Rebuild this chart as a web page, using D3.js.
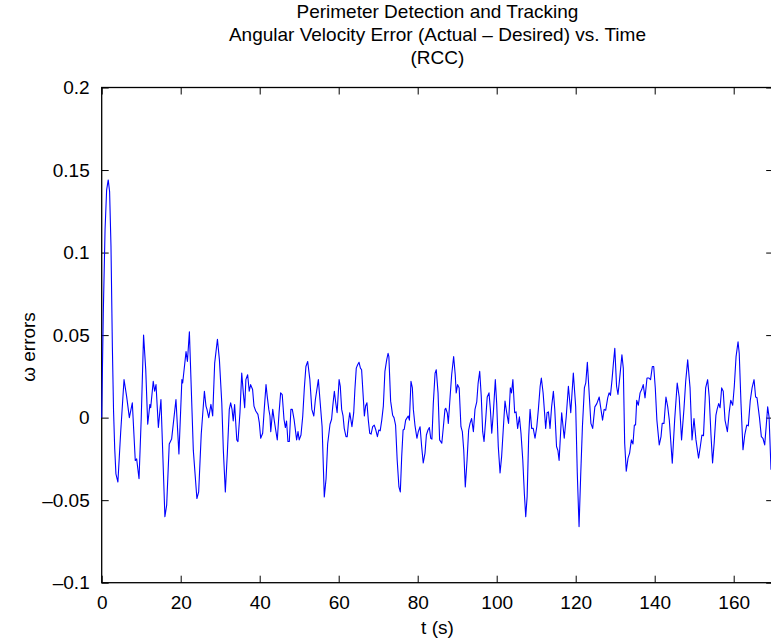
<!DOCTYPE html>
<html>
<head>
<meta charset="utf-8">
<script src="https://cdn.jsdelivr.net/npm/d3@7"></script>
<style>
  body { margin: 0; background: #fff; }
  svg { display: block; font-family: "Liberation Sans", Arial, sans-serif; }
</style>
</head>
<body>
<div id="chart"></div>
<script>
// Title lines and labels
var titleLines = ["Perimeter Detection and Tracking",
  "Angular Velocity Error (Actual \u2013 Desired) vs. Time",
  "(RCC)"];
var xLabel = "t (s)";
var yLabel = "\u03c9 errors";

// Tick values
var xTicks = [0, 20, 40, 60, 80, 100, 120, 140, 160];
var yTicks = [-0.1, -0.05, 0, 0.05, 0.1, 0.15, 0.2];

// Time samples (s)
var timeVals = [0.0, 0.4, 0.85, 1.25, 1.65, 2.0, 2.35, 2.7, 3.0, 3.3, 3.6, 4.1, 4.8, 5.65, 6.3, 7.0, 7.75, 8.5, 8.85, 9.45,
  10.0, 10.6, 11.15, 11.65, 12.2, 12.4, 13.05, 13.4, 13.75, 14.35, 15.0, 16.0, 16.45, 17.1, 17.7, 18.8, 19.55, 20.3, 20.5, 21.35,
  21.7, 22.2, 23.2, 24.1, 24.55, 25.2, 26.0, 26.4, 26.65, 27.1, 27.65, 28.1, 28.6, 29.3, 29.8, 30.4, 30.8, 31.3, 31.8, 32.3,
  32.65, 33.0, 33.3, 33.65, 34.2, 34.5, 35.0, 35.45, 35.85, 36.2, 36.5, 36.95, 37.35, 37.7, 38.2, 38.55, 39.0, 39.55, 39.9, 40.25,
  40.75, 41.15, 41.6, 41.9, 42.3, 42.6, 42.8, 43.3, 43.7, 44.05, 44.45, 44.9, 45.3, 45.7, 46.15, 46.5, 46.8, 47.15, 47.5, 47.9,
  48.25, 48.7, 49.35, 49.7, 50.0, 50.45, 50.9, 51.3, 51.7, 52.15, 52.7, 53.2, 53.7, 54.1, 54.85, 55.25, 55.8, 56.35, 56.8, 57.2,
  57.8, 58.2, 58.5, 58.9, 59.25, 59.6, 60.1, 60.4, 60.75, 61.1, 61.4, 61.85, 62.15, 62.45, 62.8, 63.1, 63.35, 63.8, 64.1, 64.45,
  64.8, 65.15, 65.5, 65.8, 66.15, 66.5, 66.8, 67.15, 67.5, 67.85, 68.2, 68.6, 69.0, 69.4, 69.8, 70.15, 70.5, 70.9, 71.3, 71.7,
  72.15, 72.5, 72.7, 73.15, 73.65, 74.0, 74.4, 74.8, 75.25, 75.6, 75.95, 76.3, 76.6, 76.95, 77.6, 77.9, 78.3, 78.65, 78.9, 79.3,
  79.8, 80.15, 80.6, 81.0, 81.4, 81.85, 82.2, 82.6, 82.95, 83.3, 83.6, 83.95, 84.4, 84.7, 85.15, 85.55, 86.1, 86.5, 86.9, 87.1,
  87.5, 87.75, 88.2, 88.6, 89.1, 89.5, 89.75, 90.1, 90.5, 90.95, 91.3, 91.65, 92.05, 92.5, 92.9, 93.25, 93.65, 94.1, 94.5, 94.95,
  95.3, 95.7, 96.1, 96.45, 96.8, 97.2, 97.6, 98.05, 98.4, 98.75, 99.15, 99.65, 100.0, 100.4, 100.85, 101.25, 101.65, 102.1, 102.5, 103.0,
  103.45, 103.75, 104.1, 104.55, 104.9, 105.3, 105.75, 106.15, 106.6, 107.0, 107.35, 107.7, 108.1, 108.45, 108.85, 109.25, 109.7, 110.15, 110.55, 111.0,
  111.3, 111.75, 112.1, 112.4, 112.75, 113.1, 113.5, 113.9, 114.35, 114.7, 115.15, 115.5, 115.8, 116.45, 117.1, 117.6, 118.15, 118.75, 119.4, 120.0,
  120.4, 120.85, 121.25, 121.7, 122.2, 122.55, 122.95, 123.35, 123.85, 124.3, 124.85, 125.35, 125.95, 126.3, 126.8, 127.2, 127.6, 128.1, 128.45, 128.8,
  129.2, 129.55, 129.9, 130.35, 130.7, 131.1, 131.7, 132.05, 132.4, 132.8, 133.25, 133.65, 134.1, 134.5, 134.85, 135.15, 135.45, 135.85, 136.3, 136.7,
  137.1, 137.55, 138.05, 138.55, 138.95, 139.4, 139.75, 140.15, 140.55, 141.15, 141.6, 141.9, 142.35, 142.85, 143.3, 143.7, 144.1, 144.45, 145.05, 145.7,
  146.2, 146.8, 147.4, 147.85, 148.35, 148.95, 149.45, 149.95, 150.45, 151.1, 151.55, 151.95, 152.35, 152.9, 153.4, 153.8, 154.25, 154.65, 155.05, 155.5,
  155.8, 156.2, 156.55, 156.95, 157.35, 157.8, 158.4, 158.85, 159.25, 159.75, 160.15, 160.6, 161.1, 161.4, 161.85, 162.35, 162.8, 163.3, 163.7, 164.2,
  164.65, 165.15, 165.55, 165.9, 166.5, 167.0, 167.4, 167.85, 168.25, 168.6, 168.95, 169.45];

// Angular velocity error at each sample
var omegaErr = [0.0, 0.063, 0.114, 0.138, 0.144, 0.137, 0.104, 0.043, 0.004, -0.019, -0.034, -0.039, -0.009, 0.023, 0.013, 0.0, 0.009, -0.026, -0.025, -0.037,
  -0.001, 0.050, 0.029, -0.004, 0.008, 0.006, 0.022, 0.016, 0.020, -0.006, 0.011, -0.060, -0.053, -0.016, -0.013, 0.011, -0.022, 0.023, 0.021, 0.040,
  0.034, 0.052, -0.020, -0.049, -0.045, -0.010, 0.016, 0.007, 0.005, 0.0, 0.008, 0.001, 0.033, 0.0475, 0.035, 0.009, -0.020, -0.045, -0.022, 0.005,
  0.009, 0.005, -0.002, 0.008, -0.0135, -0.0145, 0.003, 0.027, 0.015, 0.006, 0.023, 0.026, 0.016, 0.020, 0.017, 0.007, 0.004, 0.002, -0.003, -0.0125,
  -0.0095, 0.005, 0.020, 0.013, 0.005, 0.001, -0.0085, 0.005, -0.002, -0.0075, -0.0135, 0.003, 0.015, 0.014, -0.001, -0.006, -0.002, -0.0145, -0.0145, 0.005,
  0.005, -0.001, -0.0135, -0.0085, -0.0135, -0.0105, 0.001, 0.018, 0.031, 0.034, 0.023, 0.005, 0.001, 0.011, 0.023, 0.011, -0.0055, -0.048, -0.037, -0.016,
  -0.004, -0.001, 0.007, 0.016, 0.009, 0.003, 0.023, 0.019, 0.005, 0.001, -0.0065, -0.0115, -0.0115, -0.0035, 0.003, -0.0015, -0.0055, 0.003, 0.017, 0.030,
  0.032, 0.0335, 0.030, 0.029, 0.015, 0.001, 0.007, 0.009, -0.0015, -0.0095, -0.010, -0.0055, -0.0045, -0.0075, -0.0115, -0.0075, -0.008, -0.0015, 0.007, 0.028,
  0.035, 0.039, 0.037, 0.010, 0.0015, 0.0, -0.0045, -0.0255, -0.042, -0.045, -0.0235, -0.0075, -0.007, -0.0015, 0.001, -0.0015, 0.022, 0.018, 0.005, -0.0045,
  -0.0125, -0.0085, -0.0055, -0.0175, -0.0275, -0.0215, -0.0105, -0.0075, -0.006, -0.0125, -0.013, 0.0085, 0.027, 0.029, 0.015, -0.0135, -0.0155, -0.0055, 0.005, 0.0057,
  0.0027, -0.0035, 0.0125, 0.026, 0.037, 0.026, 0.015, 0.020, 0.018, -0.0055, -0.0085, -0.0195, -0.042, -0.0255, -0.0075, -0.0035, -0.0005, -0.0085, 0.005, 0.0095,
  0.021, 0.028, 0.0125, -0.0085, -0.0145, -0.0015, 0.0125, 0.015, 0.005, -0.0095, 0.003, 0.023, 0.0085, -0.0175, -0.0335, -0.0235, -0.0075, 0.010, 0.0035, -0.0035,
  0.018, 0.015, 0.023, 0.003, 0.0035, -0.0065, 0.0005, -0.0095, -0.0255, -0.046, -0.060, -0.048, -0.0115, 0.005, -0.0065, -0.0065, -0.0125, -0.0055, 0.005, 0.019,
  0.024, 0.015, 0.0035, -0.0065, 0.003, 0.0035, -0.0065, 0.0065, 0.016, 0.005, -0.0175, -0.020, -0.026, 0.003, -0.0125, 0.0005, 0.019, 0.003, 0.027, 0.0065,
  -0.0335, -0.066, -0.036, -0.0055, 0.018, 0.021, 0.0335, 0.017, -0.0035, -0.0065, 0.0065, 0.0085, 0.0125, 0.0065, -0.0015, 0.005, 0.0045, 0.012, 0.015, 0.0135,
  0.023, 0.033, 0.042, 0.019, 0.014, 0.023, 0.038, 0.030, -0.0155, -0.0325, -0.0245, -0.0215, -0.0135, -0.016, -0.0045, -0.0045, 0.0105, 0.0075, 0.015, 0.017,
  0.020, 0.012, 0.024, 0.024, 0.023, 0.031, 0.031, 0.018, -0.0015, -0.0165, -0.0115, -0.0035, -0.0035, 0.0125, 0.0065, -0.0015, -0.0155, -0.0276, -0.0015, 0.021,
  0.0125, -0.0135, 0.005, 0.022, 0.035, 0.018, -0.0135, -0.0005, -0.0135, -0.0245, -0.0175, -0.0105, -0.011, 0.018, 0.023, 0.0125, -0.0105, -0.0275, -0.0155, 0.0015,
  0.005, 0.0085, 0.006, 0.018, 0.016, -0.0015, -0.0085, 0.003, 0.0105, 0.0075, 0.019, 0.037, 0.046, 0.039, 0.0085, -0.0195, -0.0105, -0.0045, -0.005, 0.0105,
  0.018, 0.023, 0.0125, 0.012, 0.0005, -0.0115, -0.0125, -0.0165, -0.0045, 0.0065, 0.0005, -0.0315];

var data = timeVals.map(function(t, i) { return {t: t, v: omegaErr[i]}; });

// Chart dimensions (right edge of the box falls just past the window)
var svgW = 771, svgH = 644;
var margin = {top: 87.5, left: 101.7};
var width = 671.5;
var height = 495.2;

var x = d3.scaleLinear().domain([0, 170]).range([0, width]);
var y = d3.scaleLinear().domain([-0.1, 0.2]).range([height, 0]);

var fmtY = function(d) {
  var s = d3.format("~g")(Math.abs(d));
  return d < 0 ? "\u2013" + s : s;
};

var svg = d3.select("#chart").append("svg")
  .attr("width", svgW)
  .attr("height", svgH);

var g = svg.append("g")
  .attr("transform", "translate(" + margin.left + "," + margin.top + ")");

var tickLen = 7;

// Axes: ticks point inward, labels on bottom and left only
var xBottom = d3.axisBottom(x).tickValues(xTicks).tickSizeInner(-tickLen).tickSizeOuter(0).tickPadding(tickLen + 6);
var xTop = d3.axisTop(x).tickValues(xTicks).tickSizeInner(-tickLen).tickSizeOuter(0).tickFormat("");
var yLeft = d3.axisLeft(y).tickValues(yTicks).tickSizeInner(-tickLen).tickSizeOuter(0).tickPadding(tickLen + 5).tickFormat(fmtY);
var yRight = d3.axisRight(y).tickValues(yTicks).tickSizeInner(-tickLen).tickSizeOuter(0).tickFormat("");

g.append("g").attr("class", "axis").attr("transform", "translate(0," + height + ")").call(xBottom);
g.append("g").attr("class", "axis").call(xTop);
g.append("g").attr("class", "axis").call(yLeft);
g.append("g").attr("class", "axis").attr("transform", "translate(" + width + ",0)").call(yRight);

g.selectAll(".axis .domain").remove();
g.selectAll(".axis line").attr("stroke", "#000").attr("stroke-width", 1);
g.selectAll(".axis text")
  .attr("fill", "#000")
  .style("font-size", "19px")
  .style("font-family", "'Liberation Sans', Arial, sans-serif");

// Box around the plot
g.append("rect")
  .attr("x", 0).attr("y", 0)
  .attr("width", width).attr("height", height)
  .attr("fill", "none")
  .attr("stroke", "#000")
  .attr("stroke-width", 1.3);

// Signal
var line = d3.line()
  .x(function(d) { return x(d.t); })
  .y(function(d) { return y(d.v); });

g.append("path")
  .datum(data)
  .attr("fill", "none")
  .attr("stroke", "#0000ff")
  .attr("stroke-width", 1.1)
  .attr("stroke-linejoin", "round")
  .attr("d", line);

// Title
svg.append("g").selectAll("text")
  .data(titleLines)
  .enter().append("text")
  .attr("x", margin.left + width / 2)
  .attr("y", function(d, i) { return 18 + i * 23; })
  .attr("text-anchor", "middle")
  .style("font-size", "19px")
  .text(function(d) { return d; });

// Axis labels
svg.append("text")
  .attr("x", margin.left + width / 2)
  .attr("y", 634)
  .attr("text-anchor", "middle")
  .style("font-size", "19px")
  .text(xLabel);

svg.append("text")
  .attr("transform", "translate(35,347) rotate(-90)")
  .attr("text-anchor", "middle")
  .style("font-size", "19px")
  .text(yLabel);
</script>
</body>
</html>
